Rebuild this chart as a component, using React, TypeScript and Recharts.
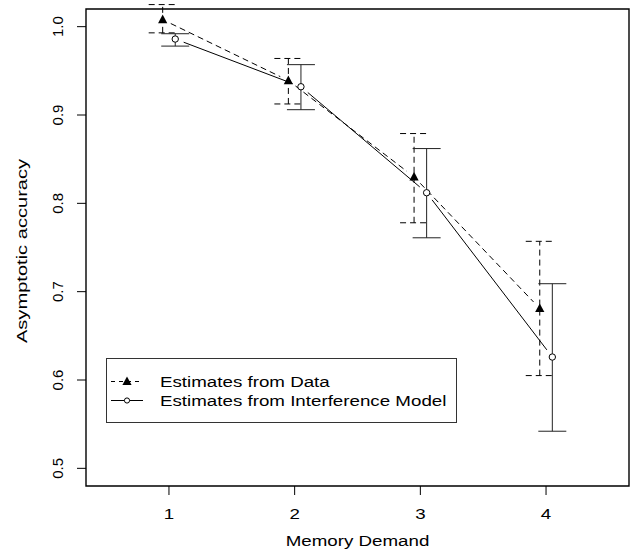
import React from 'react';
import { ScatterChart, Scatter, XAxis, YAxis, ErrorBar, ReferenceArea, Legend } from 'recharts';

// memory demand levels and the two sets of estimates (with interval bounds)
const demand = [1, 2, 3, 4];
const dataEst = [1.008, 0.939, 0.83, 0.681];
const dataLow = [0.993, 0.9125, 0.778, 0.605];
const dataHigh = [1.025, 0.964, 0.879, 0.757];
const modelEst = [0.986, 0.932, 0.812, 0.626];
const modelLow = [0.978, 0.906, 0.761, 0.542];
const modelHigh = [0.992, 0.957, 0.862, 0.709];

const xTicks = [1, 2, 3, 4];
const yTicks = [0.5, 0.6, 0.7, 0.8, 0.9, 1.0];
const legendLabels = ['Estimates from Data', 'Estimates from Interference Model'];

const X_DOMAIN: [number, number] = [0.34, 4.66];
const Y_DOMAIN: [number, number] = [0.48, 1.02];
const DODGE = 0.05;
const FONT = '"Liberation Sans", Arial, Helvetica, sans-serif';
const DASH = '6 4';

const toRows = (est: number[], low: number[], high: number[], shift: number) =>
  demand.map((d, i) => ({
    x: d + shift,
    y: est[i],
    err: [est[i] - low[i], high[i] - est[i]],
  }));

const dataRows = toRows(dataEst, dataLow, dataHigh, -DODGE);
const modelRows = toRows(modelEst, modelLow, modelHigh, DODGE);

// like R's type="b": segments stop short of each point
const gappedLine = (dash?: string) => (props: any) => {
  const pts: { x: number; y: number }[] = props.points || [];
  const gap = 9;
  return (
    <g>
      {pts.slice(1).map((p, i) => {
        const a = pts[i];
        const dx = p.x - a.x;
        const dy = p.y - a.y;
        const len = Math.hypot(dx, dy);
        if (len <= 2 * gap) return null;
        const ux = dx / len;
        const uy = dy / len;
        return (
          <line
            key={i}
            x1={a.x + ux * gap}
            y1={a.y + uy * gap}
            x2={p.x - ux * gap}
            y2={p.y - uy * gap}
            stroke="#000"
            strokeWidth={1}
            strokeDasharray={dash}
          />
        );
      })}
    </g>
  );
};

const Triangle = ({ cx, cy }: any) => (
  <polygon points={`${cx},${cy - 5} ${cx - 4.6},${cy + 3.6} ${cx + 4.6},${cy + 3.6}`} fill="#000" />
);

const OpenCircle = ({ cx, cy }: any) => (
  <circle cx={cx} cy={cy} r={3.2} fill="#fff" stroke="#000" strokeWidth={1} />
);

const XTick = ({ x, y, payload }: any) => (
  <text
    transform={`translate(${x},${y + 24}) scale(1.25,1)`}
    textAnchor="middle"
    fontFamily={FONT}
    fontSize={15}
    fill="#000"
  >
    {payload.value}
  </text>
);

const YTick = ({ x, y, payload }: any) => (
  <text
    transform={`translate(${x - 14},${y}) rotate(-90)`}
    textAnchor="middle"
    fontFamily={FONT}
    fontSize={15}
    fill="#000"
  >
    {Number(payload.value).toFixed(1)}
  </text>
);

const XTitle = ({ viewBox }: any) => (
  <text
    transform={`translate(${viewBox.x + viewBox.width / 2},${viewBox.y + 60}) scale(1.25,1)`}
    textAnchor="middle"
    fontFamily={FONT}
    fontSize={15}
    fill="#000"
  >
    Memory Demand
  </text>
);

const YTitle = ({ viewBox }: any) => (
  <text
    transform={`translate(${viewBox.x + 26.7},${viewBox.y + viewBox.height / 2 + 3.5}) rotate(-90) scale(1.34,1)`}
    textAnchor="middle"
    fontFamily={FONT}
    fontSize={15}
    fill="#000"
  >
    Asymptotic accuracy
  </text>
);

const LegendBox = () => (
  <svg width={351} height={65} style={{ display: 'block' }}>
    <rect x={0.5} y={0.5} width={350} height={64} fill="#fff" stroke="#333" strokeWidth={1} />
    <line x1={5} y1={23.5} x2={37} y2={23.5} stroke="#000" strokeDasharray="4 4" />
    <polygon points="21,18.5 16.4,27 25.6,27" fill="#000" />
    <line x1={5} y1={42.5} x2={37} y2={42.5} stroke="#000" />
    <circle cx={21} cy={42.5} r={2.6} fill="#fff" stroke="#000" />
    {legendLabels.map((t, i) => (
      <text
        key={t}
        transform={`translate(54,${28.8 + i * 19}) scale(1.25,1)`}
        fontFamily={FONT}
        fontSize={15}
        fill="#000"
      >
        {t}
      </text>
    ))}
  </svg>
);

export default function App() {
  return (
    <div style={{ position: 'absolute', left: 0, top: 0, width: 635, height: 556, background: '#fff' }}>
      <ScatterChart width={635} height={556} margin={{ top: 9, right: 6, left: 0, bottom: 0 }}>
        <XAxis
          type="number"
          dataKey="x"
          domain={X_DOMAIN}
          ticks={xTicks}
          allowDataOverflow
          axisLine={false}
          tickLine={{ stroke: '#000' }}
          tickSize={9}
          tickMargin={0}
          height={70}
          tick={<XTick />}
          label={(p: any) => <XTitle {...p} />}
        />
        <YAxis
          type="number"
          dataKey="y"
          domain={Y_DOMAIN}
          ticks={yTicks}
          allowDataOverflow
          axisLine={false}
          tickLine={{ stroke: '#000' }}
          tickSize={9}
          tickMargin={0}
          width={86}
          tick={<YTick />}
          label={(p: any) => <YTitle {...p} />}
        />
        <ReferenceArea
          x1={X_DOMAIN[0]}
          x2={X_DOMAIN[1]}
          y1={Y_DOMAIN[0]}
          y2={Y_DOMAIN[1]}
          fill="none"
          stroke="#000"
          strokeWidth={1.4}
        />
        <Scatter
          data={dataRows}
          fill="#000"
          line={gappedLine(DASH)}
          lineType="joint"
          shape={(p: any) => <Triangle {...p} />}
          isAnimationActive={false}
        >
          <ErrorBar dataKey="err" direction="y" width={14} stroke="#000" strokeWidth={1} strokeDasharray={DASH} isAnimationActive={false} />
        </Scatter>
        <Scatter
          data={modelRows}
          fill="#000"
          line={gappedLine()}
          lineType="joint"
          shape={(p: any) => <OpenCircle {...p} />}
          isAnimationActive={false}
        >
          <ErrorBar dataKey="err" direction="y" width={14} stroke="#222" strokeWidth={1} isAnimationActive={false} />
        </Scatter>
        <Legend
          layout="vertical"
          align="center"
          verticalAlign="middle"
          wrapperStyle={{ left: 106, top: 358, width: 351, height: 65 }}
          content={() => <LegendBox />}
        />
      </ScatterChart>
    </div>
  );
}
